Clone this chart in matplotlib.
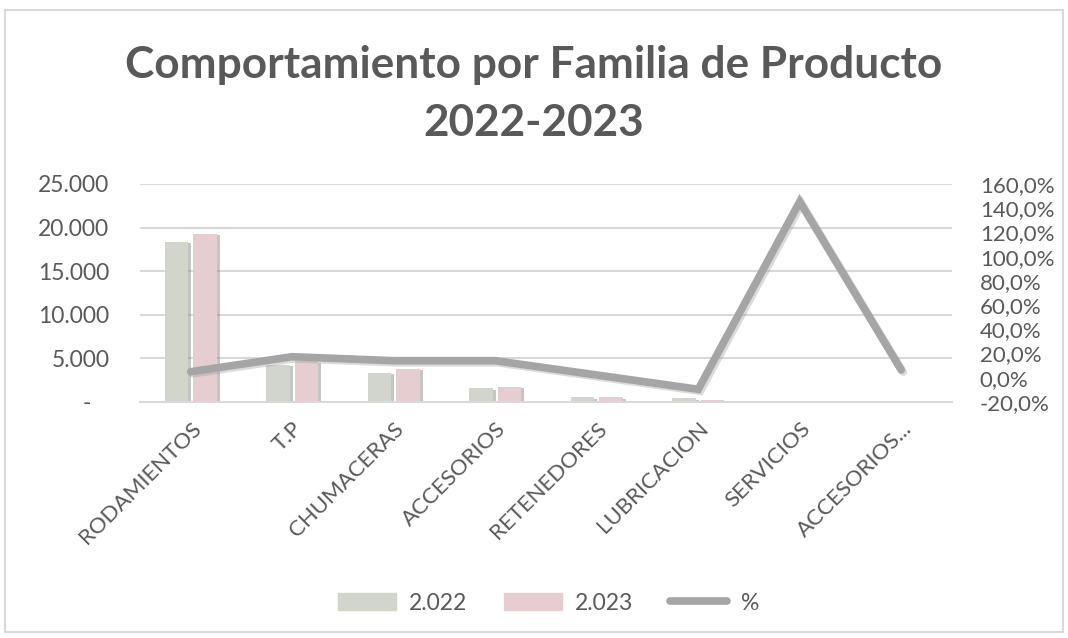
import matplotlib.pyplot as plt
import matplotlib.patheffects as pe
from matplotlib.patches import Rectangle, Patch
from matplotlib.lines import Line2D
import numpy as np

categorias = ["RODAMIENTOS", "T.P", "CHUMACERAS", "ACCESORIOS", "RETENEDORES",
              "LUBRICACION", "SERVICIOS", "ACCESORIOS..."]
ventas_2022 = [18400, 4250, 3350, 1560, 540, 420, 20, 15]
ventas_2023 = [19300, 4650, 3800, 1720, 550, 240, 49, 16]
variacion = [5.0, 17.4, 14.1, 14.1, 2.3, -9.5, 145.4, 6.4]

gris_txt = "#595959"
c22 = "#D1D5CB"
c23 = "#E6CDD0"
c_linea = "#A5A5A5"

plt.rcParams['font.family'] = ['Lato', 'DejaVu Sans']

fig = plt.figure(figsize=(10.68, 6.38), dpi=100)
fig.patches.append(Rectangle((5 / 1068, 6 / 638), 1058 / 1068, 622 / 638,
                             transform=fig.transFigure, fill=False,
                             edgecolor="#D9D9D9", lw=1.5))

ax = fig.add_axes([140 / 1068, 1 - 402 / 638, 812 / 1068, 218 / 638])
x = np.arange(len(categorias))

sombra = [pe.withSimplePatchShadow(offset=(2, -1), shadow_rgbFace="#8c8c8c", alpha=0.5)]
ax.bar(x - 0.14, ventas_2022, width=0.235, color=c22, path_effects=sombra, zorder=2)
ax.bar(x + 0.14, ventas_2023, width=0.235, color=c23, path_effects=sombra, zorder=2)

ax.set_ylim(0, 25000)
ax.set_xlim(-0.5, len(categorias) - 0.5)
ax.set_yticks(range(0, 25001, 5000))
ax.set_yticklabels(["-   "] + [f"{v:,}".replace(",", ".") for v in range(5000, 25001, 5000)])
ax.grid(axis="y", color="#D9D9D9", lw=1.5, zorder=0)
ax.set_axisbelow(True)
for s in ["top", "right", "left"]:
    ax.spines[s].set_visible(False)
ax.spines["bottom"].set_color("#D9D9D9")
ax.spines["bottom"].set_linewidth(1.5)
ax.tick_params(axis="y", length=0, pad=22, labelsize=16.5, labelcolor=gris_txt)
ax.tick_params(axis="x", length=0, pad=12, labelsize=16, labelcolor=gris_txt)
ax.set_xticks(x)
ax.set_xticklabels(categorias, rotation=45, ha="right", rotation_mode="anchor")

ax2 = ax.twinx()
ax2.set_ylim(-20, 160)
ax2.set_yticks(range(-20, 161, 20))
ax2.set_yticklabels([f"{v:.1f}%".replace(".", ",") for v in range(-20, 161, 20)])
ax2.tick_params(axis="y", length=0, pad=20, labelsize=16, labelcolor=gris_txt)
for s in ax2.spines.values():
    s.set_visible(False)
ax2.plot(x, variacion, color=c_linea, lw=5.5, solid_capstyle="round",
         solid_joinstyle="miter", zorder=3,
         path_effects=[pe.SimpleLineShadow(offset=(1.5, -1.5), shadow_color="#9a9a9a", alpha=0.35),
                       pe.Normal()])

fig.text(0.5, 1 - 65 / 638, "Comportamiento por Familia de Producto", ha="center", va="center",
         fontsize=31.8, fontweight="bold", color=gris_txt)
fig.text(0.5, 1 - 123 / 638, "2022-2023", ha="center", va="center",
         fontsize=31.8, fontweight="bold", color=gris_txt)

handles = [Patch(color=c22), Patch(color=c23), Line2D([], [], color=c_linea, lw=5.5, solid_capstyle="round")]
fig.legend(handles, ["2.022", "2.023", "%"], loc="center", bbox_to_anchor=(0.514, 1 - 603 / 638),
           ncol=3, frameon=False, fontsize=16.5, labelcolor=gris_txt, handlelength=2.5,
           handletextpad=0.6, columnspacing=1.6)

fig.savefig("out.png", dpi=100)
